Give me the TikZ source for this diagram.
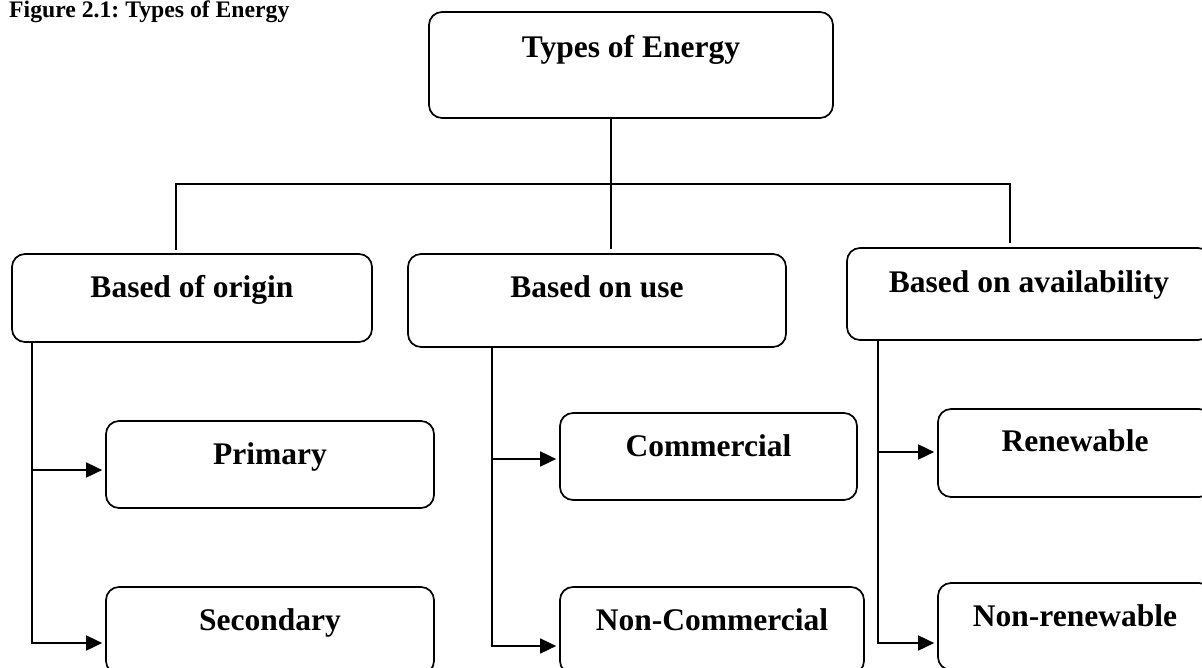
\documentclass[tikz,border=0pt]{standalone}
\usepackage{fontspec}
\setmainfont{Liberation Serif}
\usetikzlibrary{arrows.meta}
\frenchspacing
\begin{document}
\begin{tikzpicture}[x=1pt,y=-1pt,
  box/.style={draw, line width=1.7pt, rounded corners=13pt,
    font=\fontsize{31.5}{36}\selectfont\bfseries,
    text height=9pt, text depth=9pt, inner sep=0pt},
  ln/.style={line width=1.7pt},
  arr/.style={line width=1.7pt, -{Triangle[length=16pt,width=15pt]}, shorten >=3pt}]
\clip (0,0) rectangle (1202,668);
\fill[white] (0,0) rectangle (1202,668);
% title
\node[font=\fontsize{23.7}{28}\selectfont\bfseries, anchor=base west, inner sep=0pt] (title) at (9,18) {Figure 2.1: Types of Energy};
% boxes
\node[box, minimum width=404pt, minimum height=106pt, text height=8pt, text depth=22pt] (top) at (631,65) {Types of Energy};
\node[box, minimum width=360pt, minimum height=88pt] (origin) at (192,298) {Based of origin};
\node[box, minimum width=378pt, minimum height=93pt, text height=8pt, text depth=13pt] (use) at (597,300.5) {Based on use};
\node[box, minimum width=364pt, minimum height=92pt, text height=9pt, text depth=11pt] (avail) at (1029,294) {Based on availability};
\node[box, minimum width=328pt, minimum height=87pt] (primary) at (270,464.5) {Primary};
\node[box, minimum width=328pt, minimum height=87pt] (secondary) at (270,630.5) {Secondary};
\node[box, minimum width=297pt, minimum height=87pt] (commercial) at (708.5,456.5) {Commercial};
\node[box, minimum width=304pt, minimum height=87pt] (noncommercial) at (712,630.5) {Non-Commercial};
\node[box, minimum width=274pt, minimum height=88pt, text height=9pt, text depth=13pt] (renewable) at (1075,453) {Renewable};
\node[box, minimum width=274pt, minimum height=87pt, text height=9pt, text depth=10pt] (nonrenewable) at (1075,626.5) {Non-renewable};
% top connectors
\coordinate (tv) at (611,0);
\draw[ln, shorten >=4pt] (top.south -| tv) -- (use.north -| tv);
\coordinate (hl) at (178,184);
\coordinate (hr) at (1010,184);
\coordinate (dl) at (176,250);
\coordinate (dr) at (1010,243);
\draw[ln] (dl) -- (dl |- hl) -- (hr) -- (dr);
% origin branch
\coordinate (oa) at (32,470);
\coordinate (ot) at (32,643);
\draw[arr] (origin.south -| ot) -- (ot) -- (ot -| secondary.west);
\draw[arr] (oa) -- (oa -| primary.west);
% use branch
\coordinate (ua) at (492,459);
\coordinate (ut) at (492,646);
\draw[arr] (use.south -| ut) -- (ut) -- (ut -| noncommercial.west);
\draw[arr] (ua) -- (ua -| commercial.west);
% availability branch
\coordinate (aa) at (878,452);
\coordinate (at) at (878,643);
\draw[arr] (avail.south -| at) -- (at) -- (at -| nonrenewable.west);
\draw[arr] (aa) -- (aa -| renewable.west);
\end{tikzpicture}
\end{document}
